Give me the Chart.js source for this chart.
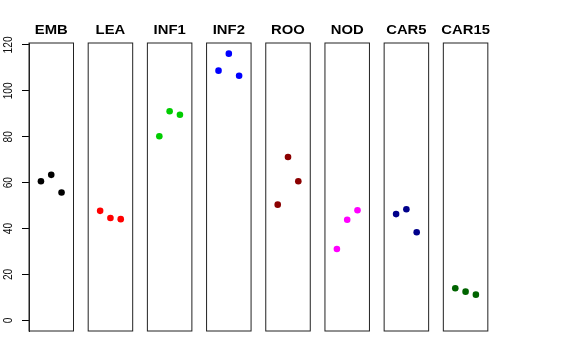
<!DOCTYPE html>
<html>
<head>
<meta charset="utf-8">
<script src="https://cdn.jsdelivr.net/npm/chart.js@4.4.1/dist/chart.umd.min.js"></script>
<style>
  html, body { margin: 0; padding: 0; background: #ffffff; }
  #wrap { position: relative; width: 576px; height: 360px; background: #ffffff; }
  #wrap canvas { position: absolute; left: 0; top: 0; }
</style>
</head>
<body>
<div id="wrap"></div>
<script>
// ---- data ----
const categories = ["EMB", "LEA", "INF1", "INF2", "ROO", "NOD", "CAR5", "CAR15"];
const xPositions = [1, 2, 3];
const emb   = [60.6, 63.4, 55.7];
const lea   = [47.7, 44.6, 44.1];
const inf1  = [80.2, 91.1, 89.6];
const inf2  = [108.8, 116.2, 106.6];
const roo   = [50.4, 71.2, 60.6];
const nod   = [31.1, 43.8, 48.0];
const car5  = [46.3, 48.4, 38.4];
const car15 = [14.0, 12.5, 11.2];
const yTicks = [0, 20, 40, 60, 80, 100, 120];

const seriesValues = [emb, lea, inf1, inf2, roo, nod, car5, car15];
const colors = ["#000000", "#FF0000", "#00CD00", "#0000FF", "#8B0000", "#FF00FF", "#00008B", "#006400"];

// ---- layout ----
const W = 576, H = 360;
const firstLeft = 29, step = 59.19, boxW = 44.5;
const padTop = 43, padBottom = 29;
const yMin = -4.65, yMax = 120.85;
const xMin = -0.16, xMax = 4.16;

const wrap = document.getElementById('wrap');

const boxPlugin = {
  id: 'panelBox',
  afterDraw(chart, args, opts) {
    const a = chart.chartArea;
    const ctx = chart.ctx;
    ctx.save();
    ctx.strokeStyle = '#222222';
    ctx.lineWidth = 1;
    ctx.strokeRect(a.left, a.top, a.right - a.left, a.bottom - a.top);
    // title
    ctx.translate((a.left + a.right) / 2, 34);
    ctx.scale(1.06, 0.95);
    ctx.fillStyle = '#000000';
    ctx.font = 'bold 14px "Liberation Sans", Arial, sans-serif';
    ctx.textAlign = 'center';
    ctx.textBaseline = 'alphabetic';
    ctx.fillText(opts.title, 0, 0);
    ctx.restore();
  }
};

const yLabelPlugin = {
  id: 'yLabels',
  afterDraw(chart, args, opts) {
    if (!opts.enabled) return;
    const s = chart.scales.y;
    const ctx = chart.ctx;
    ctx.save();
    ctx.fillStyle = '#111111';
    ctx.font = '12px "Liberation Sans", Arial, sans-serif';
    ctx.textAlign = 'center';
    ctx.textBaseline = 'middle';
    yTicks.forEach(v => {
      const y = s.getPixelForValue(v);
      ctx.save();
      ctx.translate(9, y);
      ctx.rotate(-Math.PI / 2);
      ctx.scale(0.85, 1.05);
      ctx.fillText(String(v), 0, 0);
      ctx.restore();
    });
    ctx.restore();
  }
};

categories.forEach((cat, i) => {
  const cv = document.createElement('canvas');
  cv.width = W; cv.height = H;
  cv.style.width = W + 'px'; cv.style.height = H + 'px';
  wrap.appendChild(cv);
  const left = firstLeft + step * i;
  const first = i === 0;
  const vals = seriesValues[i];
  new Chart(cv.getContext('2d'), {
    type: 'scatter',
    data: {
      datasets: [{
        label: cat,
        data: xPositions.map((x, k) => ({ x: x, y: vals[k] })),
        backgroundColor: colors[i],
        borderColor: colors[i],
        borderWidth: 0,
        pointRadius: 3.3,
        pointHoverRadius: 3.3
      }]
    },
    options: {
      responsive: false,
      animation: false,
      events: [],
      layout: {
        padding: {
          left: first ? 0 : left,
          right: W - left - boxW,
          top: padTop,
          bottom: padBottom
        }
      },
      scales: {
        x: { type: 'linear', min: xMin, max: xMax, display: false },
        y: {
          type: 'linear',
          min: yMin,
          max: yMax,
          display: first,
          afterBuildTicks: s => { s.ticks = yTicks.map(v => ({ value: v })); },
          afterFit: s => { s.width = first ? firstLeft : 0; },
          ticks: { display: false },
          grid: { drawOnChartArea: false, drawTicks: true, tickLength: 7, color: '#000000', lineWidth: 1 },
          border: { display: true, color: '#222222', width: 1 }
        }
      },
      plugins: {
        legend: { display: false },
        tooltip: { enabled: false },
        title: { display: false },
        panelBox: { title: cat },
        yLabels: { enabled: first }
      }
    },
    plugins: [boxPlugin, yLabelPlugin]
  });
});
</script>
</body>
</html>
